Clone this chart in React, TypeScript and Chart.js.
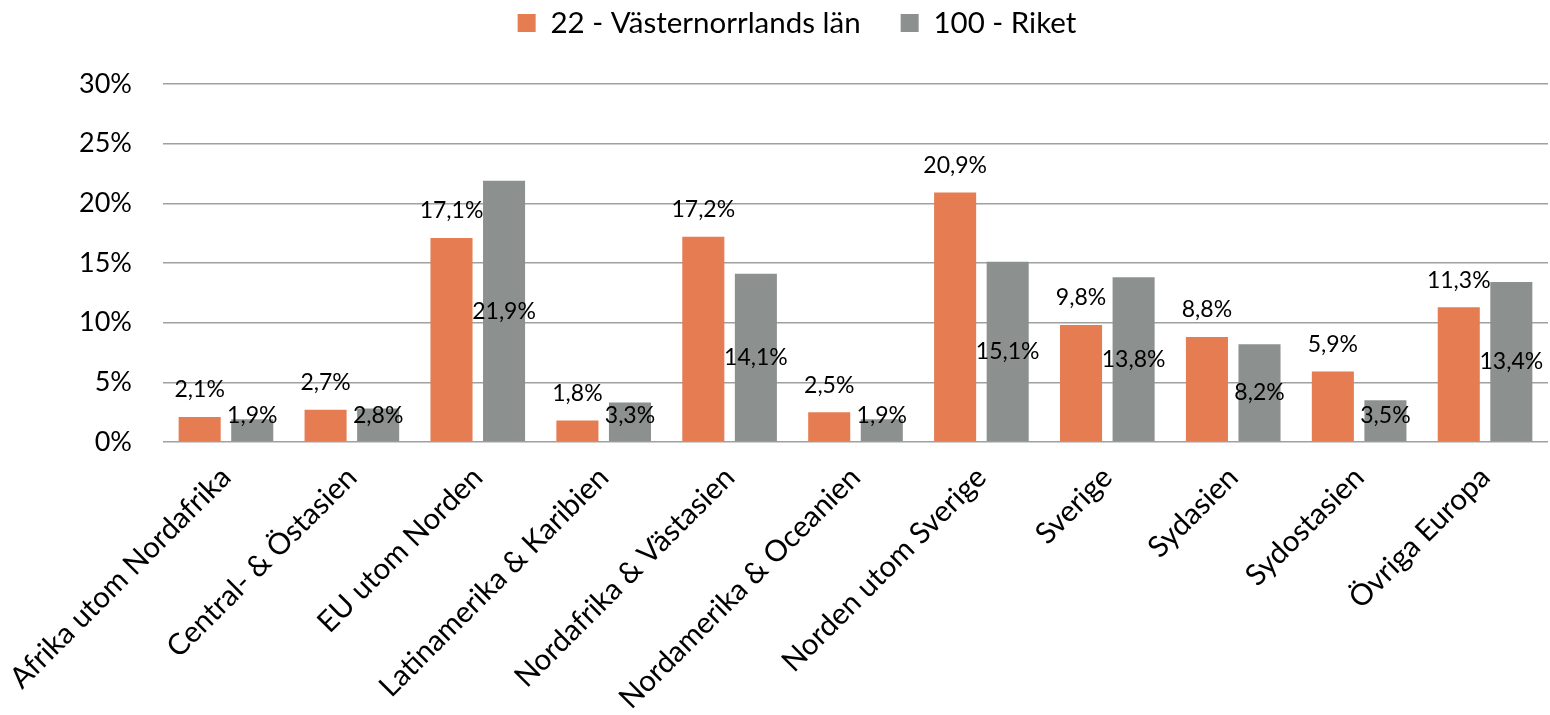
import React, { useEffect, useRef } from "react";
import { Chart, registerables } from "chart.js";

Chart.register(...registerables);

const categories = [
  "Afrika utom Nordafrika",
  "Central- & Östasien",
  "EU utom Norden",
  "Latinamerika & Karibien",
  "Nordafrika & Västasien",
  "Nordamerika & Oceanien",
  "Norden utom Sverige",
  "Sverige",
  "Sydasien",
  "Sydostasien",
  "Övriga Europa",
];

const seriesNames = ["22 - Västernorrlands län", "100 - Riket"];

const lanValues = [2.1, 2.7, 17.1, 1.8, 17.2, 2.5, 20.9, 9.8, 8.8, 5.9, 11.3];
const riketValues = [1.9, 2.8, 21.9, 3.3, 14.1, 1.9, 15.1, 13.8, 8.2, 3.5, 13.4];

const yTicks = [0, 5, 10, 15, 20, 25, 30];

const ORANGE = "#E67C51";
const GRAY = "#8C908E";
const FONT = "Lato";

const fmt = (v: number) => v.toFixed(1).replace(".", ",") + "%";

const labelPlugin = {
  id: "barValueLabels",
  afterDatasetsDraw(chart: any) {
    const ctx = chart.ctx;
    const base = chart.scales.y.getPixelForValue(0);
    ctx.save();
    ctx.font = `23px ${FONT}`;
    ctx.fillStyle = "#000";
    ctx.textAlign = "center";
    ctx.textBaseline = "middle";
    chart.data.datasets.forEach((ds: any, di: number) => {
      const meta = chart.getDatasetMeta(di);
      meta.data.forEach((bar: any, i: number) => {
        const v = ds.data[i];
        let y: number;
        if (di === 0) {
          y = bar.y - 27;
        } else {
          y = Math.min((bar.y + base) / 2, base - 26);
        }
        ctx.fillText(fmt(v), bar.x, y);
      });
    });
    ctx.restore();
  },
};

const LEGEND_HEIGHT = 84;
const LEGEND_DX = 23;
const LEGEND_DY = -31.75;

const legendSpacer = {
  id: "legendSpacer",
  beforeLayout(chart: any) {
    const lg = chart.legend;
    if (lg && !lg.__patched) {
      const origFit = lg.fit.bind(lg);
      lg.fit = () => {
        origFit();
        lg.height = LEGEND_HEIGHT;
      };
      const origDraw = lg.draw.bind(lg);
      lg.draw = () => {
        chart.ctx.save();
        chart.ctx.translate(LEGEND_DX, LEGEND_DY);
        origDraw();
        chart.ctx.restore();
      };
      lg.__patched = true;
    }
  },
};

export default function App() {
  const ref = useRef<HTMLCanvasElement | null>(null);

  useEffect(() => {
    if (!ref.current) return;
    const chart = new Chart(ref.current, {
      type: "bar",
      data: {
        labels: categories,
        datasets: [
          {
            label: seriesNames[0],
            data: lanValues,
            backgroundColor: ORANGE,
            borderWidth: 0,
            barPercentage: 0.8,
            categoryPercentage: 0.835,
          },
          {
            label: seriesNames[1],
            data: riketValues,
            backgroundColor: GRAY,
            borderWidth: 0,
            barPercentage: 0.8,
            categoryPercentage: 0.835,
          },
        ],
      },
      options: {
        responsive: false,
        animation: false,
        layout: { padding: { left: 0, right: 2, top: 0, bottom: 0 } },
        plugins: {
          tooltip: { enabled: false },
          legend: {
            position: "top",
            labels: {
              boxWidth: 18,
              boxHeight: 18,
              padding: 40,
              color: "#000",
              font: { family: FONT, size: 29.5 },
            },
          },
        },
        scales: {
          x: {
            grid: { display: false },
            border: { display: false },
            ticks: {
              color: "#000",
              font: { family: FONT, size: 29.5 },
              minRotation: 45,
              maxRotation: 45,
              autoSkip: false,
              padding: 10,
            },
            afterFit(scale: any) {
              scale.height = 273;
              scale.paddingLeft = 0;
              scale.paddingRight = 0;
            },
          },
          y: {
            min: 0,
            max: 30,
            border: { display: false },
            grid: { color: "#A0A0A0", lineWidth: 1.5, drawTicks: false },
            afterBuildTicks(scale: any) {
              scale.ticks = yTicks.map((v) => ({ value: v }));
            },
            ticks: {
              color: "#000",
              font: { family: FONT, size: 27 },
              padding: 31,
              callback: (v: any) => `${v}%`,
            },
            afterFit(scale: any) {
              scale.width = 163;
            },
          },
        },
      },
      plugins: [labelPlugin, legendSpacer],
    });
    return () => chart.destroy();
  }, []);

  return (
    <div style={{ position: "absolute", left: 0, top: 0, width: 1550, height: 715, background: "#fff" }}>
      <canvas ref={ref} width={1550} height={715} />
    </div>
  );
}
